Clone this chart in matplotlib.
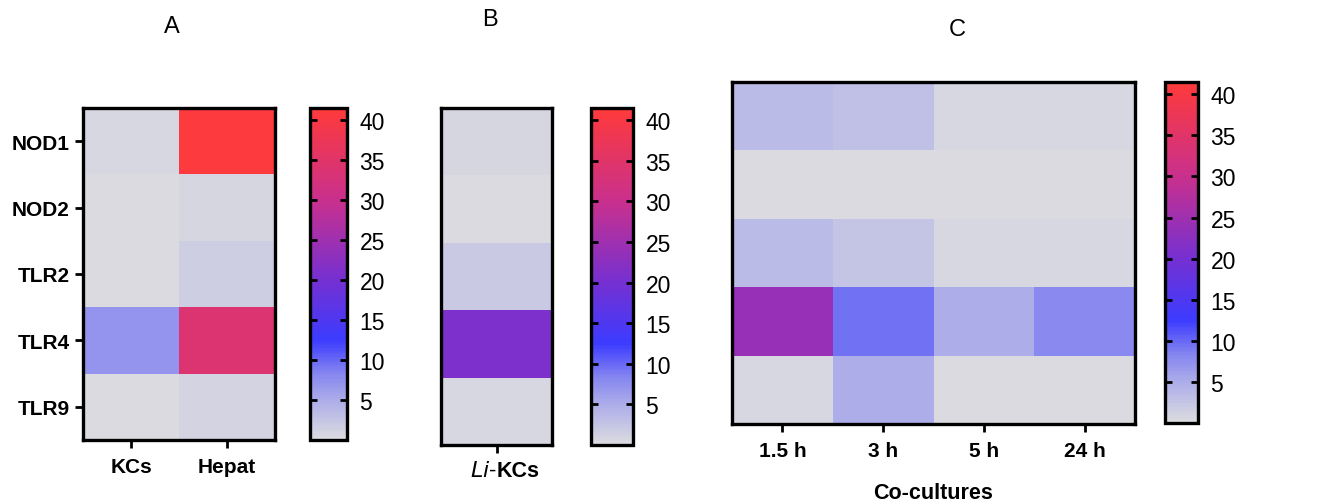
import numpy as np
import matplotlib
matplotlib.use("Agg")
import matplotlib.pyplot as plt
from matplotlib.colors import LinearSegmentedColormap, Normalize

plt.rcParams['font.family'] = ['Liberation Sans', 'DejaVu Sans']

# datos
receptores = ["NOD1", "NOD2", "TLR2", "TLR4", "TLR9"]
cols_a = ["KCs", "Hepat"]
vals_a = np.array([[0.5, 41.0],
                   [0.2, 0.8],
                   [0.2, 1.5],
                   [7.0, 34.0],
                   [0.2, 1.0]])
vals_b = np.array([[0.8], [0.2], [2.0], [21.0], [0.6]])
cols_c = ["1.5 h", "3 h", "5 h", "24 h"]
vals_c = np.array([[3.5, 3.0, 0.5, 0.5],
                   [0.2, 0.2, 0.2, 0.2],
                   [3.5, 2.5, 0.5, 0.5],
                   [24.0, 9.5, 5.0, 8.0],
                   [0.5, 5.0, 0.2, 0.2]])
ticks_cb = [5, 10, 15, 20, 25, 30, 35, 40]

vmin, vmax = 0, 41.5
cmap = LinearSegmentedColormap.from_list("gbr", [
    (0.0, "#dcdce0"),
    (0.12, "#acacea"),
    (0.2, "#8585f0"),
    (0.3, "#3c3cff"),
    (0.48, "#7430d2"),
    (0.72, "#c8308e"),
    (1.0, "#ff3a3a")])
norm = Normalize(vmin, vmax)

W, H = 1317, 502
fig = plt.figure(figsize=(W / 100, H / 100), dpi=100)

def caja(x0, y0, x1, y1):
    return [x0 / W, 1 - y1 / H, (x1 - x0) / W, (y1 - y0) / H]

def marco(ax):
    for s in ax.spines.values():
        s.set_linewidth(2.4)

def barra(rect):
    cax = fig.add_axes(caja(*rect))
    cb = fig.colorbar(plt.cm.ScalarMappable(norm=norm, cmap=cmap), cax=cax)
    cb.set_ticks(ticks_cb)
    cb.outline.set_linewidth(2.4)
    cax.tick_params(axis='y', direction='in', left=True, right=True,
                    length=5, width=2, labelsize=16.5, pad=9)
    return cax

# A
ax = fig.add_axes(caja(83, 109, 275, 441))
ax.pcolormesh(vals_a, cmap=cmap, norm=norm)
ax.invert_yaxis()
ax.set_xticks(np.arange(len(cols_a)) + 0.5)
ax.set_xticklabels(cols_a, fontweight='bold', fontsize=15)
ax.set_yticks(np.arange(len(receptores)) + 0.5)
ax.set_yticklabels(receptores, fontweight='bold', fontsize=15)
ax.tick_params(length=6, width=2)
ax.tick_params(axis='x', pad=6)
marco(ax)
barra((310, 109, 347, 441))
fig.text(172 / W, 1 - 27 / H, "A", fontsize=17, ha='center', va='center')

# B
ax = fig.add_axes(caja(441, 109, 552, 446))
ax.pcolormesh(vals_b, cmap=cmap, norm=norm)
ax.invert_yaxis()
ax.set_xticks([0.5])
ax.set_xticklabels([""])
ax.set_yticks([])
ax.tick_params(length=6, width=2)
ax.text(0.5, -0.075, r"$\it{Li}$-", transform=ax.transAxes, fontsize=16,
        ha='right', va='center')
ax.text(0.5, -0.075, "KCs", transform=ax.transAxes, fontsize=15.5,
        fontweight='bold', ha='left', va='center')
marco(ax)
barra((591, 109, 633, 446))
fig.text(490 / W, 1 - 20 / H, "B", fontsize=17, ha='center', va='center')

# C
ax = fig.add_axes(caja(732, 83, 1135, 425))
ax.pcolormesh(vals_c, cmap=cmap, norm=norm)
ax.invert_yaxis()
ax.set_xticks(np.arange(len(cols_c)) + 0.5)
ax.set_xticklabels(cols_c, fontweight='bold', fontsize=15)
ax.set_yticks([])
ax.tick_params(length=6, width=2)
ax.tick_params(axis='x', pad=6)
ax.set_xlabel("Co-cultures", fontweight='bold', fontsize=15.5, labelpad=16)
marco(ax)
barra((1165, 83, 1198, 424))
fig.text(957 / W, 1 - 30 / H, "C", fontsize=17, ha='center', va='center')

fig.savefig("out.png", dpi=100)
